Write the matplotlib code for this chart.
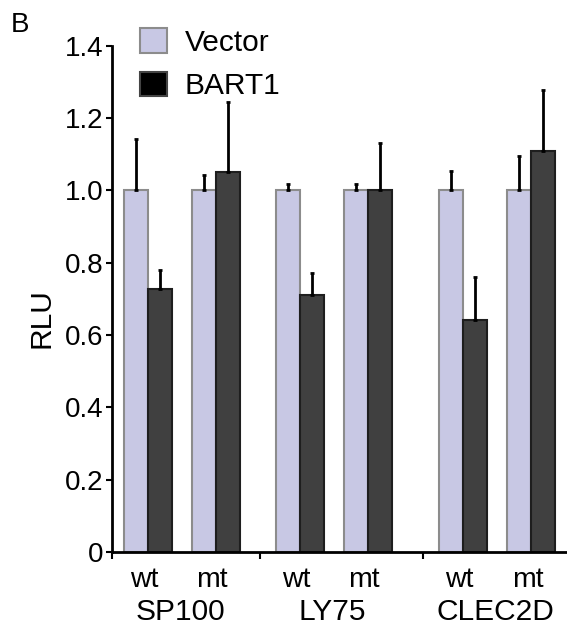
import numpy as np
import matplotlib.pyplot as plt
from matplotlib.patches import Patch
from matplotlib.transforms import blended_transform_factory

plt.rcParams['font.family'] = ['Liberation Sans', 'DejaVu Sans']

genes = ["SP100", "LY75", "CLEC2D"]
variants = ["wt", "mt"]
vector = [1.0, 1.0, 1.0, 1.0, 1.0, 1.0]
vector_err = [0.143, 0.043, 0.017, 0.019, 0.054, 0.096]
bart1 = [0.728, 1.052, 0.711, 1.0, 0.642, 1.108]
bart1_err = [0.052, 0.194, 0.062, 0.13, 0.119, 0.17]

VEC_C = "#c8c8e4"
BART_C = "#404040"

# layout (bar width = 1 unit)
group_start = [1.5, 7.83, 14.63]
pair_gap = 2.83
centers = np.array([g + i * pair_gap for g in group_start for i in range(2)])
seps = [6.17, 12.96]

fig = plt.figure(figsize=(5.67, 6.28), dpi=100)
ax = fig.add_axes([0.1975, 0.121, 0.80, 0.806])

ax.bar(centers - 0.5, vector, width=1.0, color=VEC_C, edgecolor="#8c8c8c",
       linewidth=1.5, zorder=2)
ax.bar(centers + 0.5, bart1, width=1.0, color=BART_C, edgecolor="#1e1e1e",
       linewidth=1.5, zorder=2)
ax.errorbar(centers - 0.5, vector, yerr=[np.zeros(6), vector_err], fmt="none",
            ecolor="black", elinewidth=2, capsize=1.5, capthick=2, zorder=3)
ax.errorbar(centers + 0.5, bart1, yerr=[np.zeros(6), bart1_err], fmt="none",
            ecolor="black", elinewidth=2, capsize=1.5, capthick=2, zorder=3)

ax.set_xlim(0, 18.9)
ax.set_ylim(0, 1.4)
ax.set_yticks(np.arange(0, 1.41, 0.2))
ax.set_yticklabels(["0"] + [f"{v:.1f}" for v in np.arange(0.2, 1.41, 0.2)])

ax.set_xticks([0] + seps)
ax.set_xticklabels([])
ax.set_xticks(centers - 0.15, minor=True)
ax.set_xticklabels(variants * 3, minor=True)
ax.tick_params(axis="x", which="minor", length=0, labelsize=20.5, pad=11)
ax.tick_params(axis="x", which="major", length=5, width=1.5, direction="out")
ax.tick_params(axis="y", length=4, width=1.5, direction="out", labelsize=20,
               pad=2)

for s in ["top", "right"]:
    ax.spines[s].set_visible(False)
for s in ["left", "bottom"]:
    ax.spines[s].set_linewidth(2)

trans = blended_transform_factory(ax.transData, fig.transFigure)
for i, g in enumerate(genes):
    ax.text(centers[2 * i:2 * i + 2].mean() - 0.05, 1 - 612 / 628, g,
            transform=trans, ha="center", va="center", fontsize=21.5)

fig.text(42 / 567, 1 - 318 / 628, "RLU", rotation=90, ha="center",
         va="center", fontsize=21.5)
fig.text(11 / 567, 1 - 25 / 628, "B", ha="left", va="center", fontsize=20)

handles = [Patch(facecolor=VEC_C, edgecolor="#8c8c8c", linewidth=1.5,
                 label="Vector"),
           Patch(facecolor="black", edgecolor="#444444", linewidth=1.5,
                 label="BART1")]
fig.legend(handles=handles, loc="upper left",
           bbox_to_anchor=(119 / 567, 1 - 7 / 628), frameon=False,
           fontsize=21.5, handlelength=0.9, handleheight=0.9,
           handletextpad=0.6, labelspacing=0.5, borderpad=0.2)

fig.savefig("out.png", dpi=100)
